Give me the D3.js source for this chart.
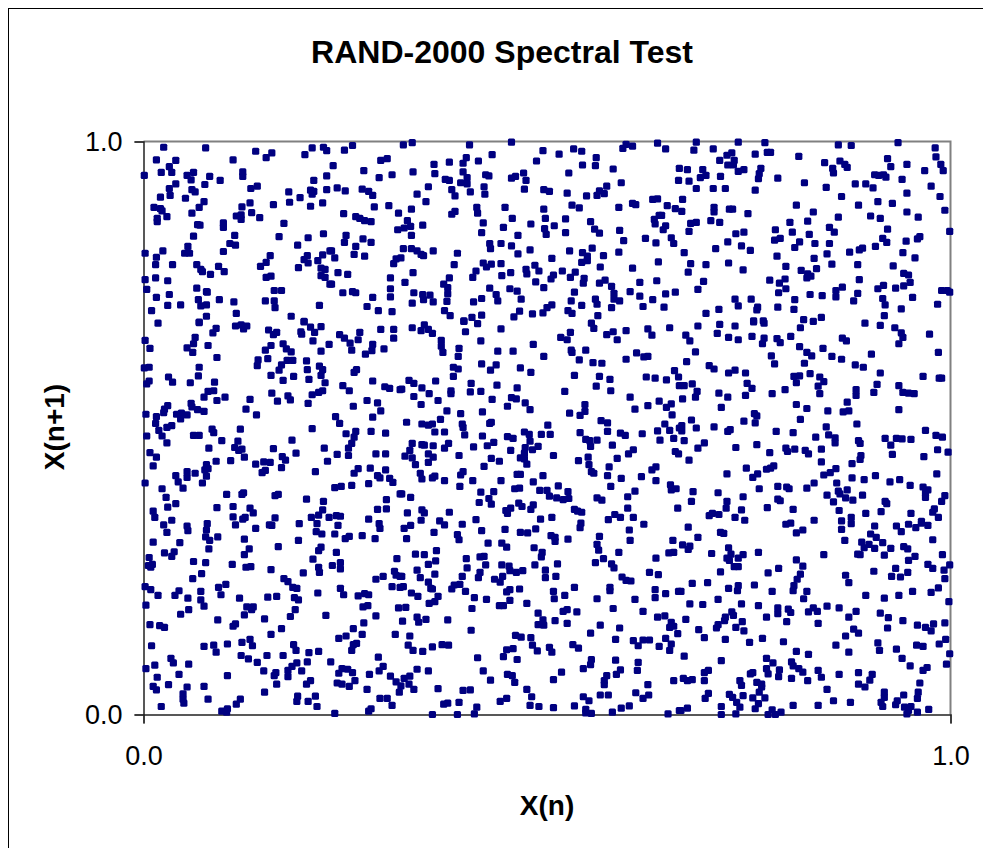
<!DOCTYPE html>
<html>
<head>
<meta charset="utf-8">
<script src="https://cdn.jsdelivr.net/npm/d3@7"></script>
<style>
  html, body { margin: 0; padding: 0; background: #fff; overflow: hidden; }
  text { font-family: "Liberation Sans", Arial, sans-serif; fill: #000; }
</style>
</head>
<body>
<div id="chart"></div>
<script>
const titleText = "RAND-2000 Spectral Test"
const xLabel = "X(n)"
const yLabel = "X(n+1)"
const tickValues = [0, 1]

// values, one list per part of the plot: [X(n), X(n+1)]
const upperLeft = [[.025,.990],[.077,.989],[.139,.983],[.159,.980],[.152,.972],[.111,.968],[.016,.968],[.040,.967],[.032,.956],[.022,.946],[.035,.946],[.001,.941],[.062,.946],[.054,.941],[.059,.933],[.082,.939],[.123,.947],[.123,.939],[.095,.932],[.040,.926],[.032,.918],[.076,.925],[.141,.922],[.133,.918],[.060,.916],[.064,.912],[.033,.906],[.021,.903],[.052,.901],[.075,.895],[.069,.885],[.013,.885],[.021,.883],[.023,.879],[.122,.886],[.132,.893],[.161,.890],[.134,.876],[.060,.875],[.115,.870],[.121,.872],[.121,.864],[.144,.867],[.029,.869],[.017,.866],[.017,.860],[.067,.855],[.070,.854],[.099,.858],[.099,.850],[.174,.857],[.062,.835],[.113,.836],[.168,.834],[.107,.822],[.114,.819],[.055,.817],[.099,.808],[.051,.805],[.057,.805],[.024,.809],[.002,.805],[.016,.798],[.157,.801],[.152,.789],[.145,.782],[.015,.785],[.036,.785],[.066,.785],[.071,.777],[.093,.782],[.100,.773],[.083,.768],[.073,.773],[.002,.759],[.015,.762],[.030,.757],[.152,.763],[.158,.765],[.078,.738],[.209,.989],[.223,.990],[.227,.984],[.200,.977],[.227,.940],[.211,.932],[.227,.916],[.180,.912],[.207,.915],[.211,.913],[.209,.908],[.194,.902],[.181,.894],[.222,.893],[.207,.887],[.223,.839],[.204,.832],[.191,.819],[.231,.809],[.222,.802],[.203,.801],[.199,.794],[.204,.788],[.216,.792],[.192,.780],[.220,.779],[.225,.777],[.220,.766],[.225,.763],[.231,.751],
  [.004,.742],[.016,.728],[.032,.733],[.030,.714],[.046,.715],[.010,.705],[.066,.744],[.079,.737],[.068,.724],[.071,.713],[.078,.715],[.094,.724],[.112,.720],[.078,.695],[.069,.685],[.115,.700],[.162,.740],[.171,.740],[.151,.722],[.162,.722],[.163,.710],[.218,.714],[.183,.695],[.199,.686]]

const upperMiddle = [[.249,.985],[.259,.993],[.322,.994],[.333,.998],[.404,.994],[.456,.999],[.495,.984],[.515,.978],[.533,.987],[.543,.983],[.594,.988],[.598,.995],[.606,.992],[.637,.997],[.432,.977],[.400,.972],[.561,.972],[.487,.966],[.415,.966],[.379,.964],[.396,.962],[.360,.960],[.302,.970],[.294,.967],[.235,.958],[.544,.959],[.560,.958],[.582,.952],[.273,.949],[.334,.947],[.396,.947],[.527,.945],[.308,.942],[.361,.944],[.424,.942],[.428,.940],[.471,.945],[.461,.939],[.456,.936],[.292,.937],[.374,.934],[.379,.932],[.401,.937],[.474,.932],[.393,.928],[.401,.926],[.353,.921],[.422,.921],[.592,.928],[.574,.922],[.240,.919],[.250,.914],[.271,.917],[.279,.913],[.284,.906],[.382,.916],[.405,.912],[.472,.917],[.496,.916],[.503,.913],[.525,.910],[.565,.914],[.571,.909],[.562,.906],[.549,.905],[.339,.908],[.386,.905],[.423,.908],[.350,.895],[.631,.899],[.637,.900],[.606,.892],[.610,.890],[.286,.886],[.304,.888],[.332,.882],[.413,.885],[.448,.885],[.496,.882],[.531,.889],[.540,.884],[.589,.885],[.248,.874],[.316,.875],[.386,.878],[.382,.873],[.414,.875],[.263,.869],[.268,.866],[.274,.862],[.282,.860],[.327,.862],[.457,.866],[.498,.866],[.523,.865],[.554,.860],[.639,.871],[.633,.864],[.634,.856],[.421,.858],[.480,.856],[.509,.853],[.346,.854],[.331,.852],[.323,.849],[.315,.846],[.446,.850],[.497,.848],[.559,.847],[.590,.845],[.419,.841],[.523,.841],[.499,.838],[.565,.840],[.332,.836],[.464,.836],[.251,.836],[.272,.830],[.622,.831],[.595,.827],[.635,.823],[.249,.824],[.282,.824],[.429,.822],[.443,.822],[.263,.817],[.456,.818],[.430,.813],[.322,.813],[.332,.813],[.339,.809],[.479,.811],[.528,.809],[.359,.809],[.556,.814],[.233,.809],[.544,.806],[.589,.807],[.344,.803],[.347,.801],[.389,.805],[.464,.804],[.261,.803],[.274,.800],[.237,.797],[.570,.801],[.506,.796],[.550,.800],[.319,.797],[.313,.795],[.310,.787],[.550,.792],[.543,.789],[.638,.790],[.421,.788],[.431,.786],[.443,.787],[.385,.785],[.425,.781],[.485,.784],[.566,.781],[.606,.779],[.474,.777],[.412,.774],[.490,.774],[.519,.774],[.535,.772],[.241,.771],[.253,.768],[.334,.771],[.455,.771],[.475,.769],[.444,.766],[.508,.767],[.306,.762],[.379,.762],[.408,.763],[.529,.763],[.505,.760],[.546,.761],[.572,.758],[.636,.757],[.486,.755],[.324,.754],[.545,.753],[.565,.753],[.615,.754],[.372,.751],[.233,.751],[.496,.745],[.377,.745],[.580,.747],[.306,.743],[.429,.744],[.454,.743],[.463,.739],[.247,.736],[.259,.738],[.263,.736],[.335,.736],[.534,.737],[.603,.738],[.583,.735],[.346,.733],[.355,.732],[.377,.734],[.306,.729],[.284,.728],[.437,.733],[.615,.730],[.347,.724],[.419,.726],[.468,.725],[.560,.725],[.631,.724],[.583,.725],[.439,.722],[.530,.722],[.590,.722],[.359,.720],[.376,.721],[.333,.718],[.409,.720],[.562,.716],[.277,.712],[.543,.714],[.506,.715],[.500,.710],[.619,.712],[.580,.710],[.291,.705],[.308,.703],[.373,.705],[.466,.704],[.482,.699],[.495,.701],[.526,.705],[.531,.700],[.380,.696],[.419,.697],[.407,.693],[.459,.694],[.563,.696],[.397,.687]]

const upperRight = [[.685,.999],[.682,.985],[.647,.987],[.706,.987],[.737,.999],[.770,.998],[.861,.994],[.877,.993],[.935,.998],[.981,.989],[.982,.973],[.773,.981],[.777,.981],[.758,.978],[.729,.980],[.723,.976],[.714,.967],[.732,.967],[.812,.974],[.922,.970],[.724,.959],[.731,.959],[.844,.963],[.863,.966],[.869,.960],[.872,.955],[.926,.956],[.946,.960],[.988,.960],[.664,.953],[.674,.951],[.693,.951],[.737,.948],[.744,.951],[.765,.953],[.854,.953],[.991,.949],[.968,.949],[.697,.941],[.690,.937],[.715,.939],[.763,.944],[.855,.945],[.906,.942],[.917,.942],[.911,.941],[.920,.938],[.663,.932],[.676,.931],[.762,.935],[.786,.936],[.940,.934],[.819,.928],[.882,.926],[.895,.926],[.846,.920],[.904,.919],[.976,.922],[.685,.918],[.706,.918],[.721,.918],[.758,.915],[.946,.910],[.987,.904],[.865,.904],[.668,.899],[.649,.888],[.809,.889],[.886,.889],[.910,.895],[.928,.892],[.707,.885],[.659,.883],[.726,.882],[.730,.882],[.993,.880],[.667,.878],[.707,.877],[.830,.877],[.946,.877],[.642,.871],[.749,.874],[.861,.868],[.901,.870],[.960,.868],[.913,.866],[.703,.862],[.714,.859],[.823,.861],[.801,.859],[.685,.859],[.678,.857],[.647,.853],[.850,.850],[.783,.846],[.644,.846],[.922,.847],[.676,.843],[.856,.842],[.804,.842],[.744,.842],[.734,.839],[.825,.838],[.999,.843],[.654,.832],[.789,.831],[.782,.828],[.962,.834],[.959,.830],[.916,.831],[.813,.825],[.724,.825],[.921,.824],[.945,.826],[.657,.822],[.832,.822],[.850,.822],[.741,.818],[.807,.815],[.907,.817],[.709,.813],[.891,.814],[.887,.811],[.752,.810],[.875,.807],[.670,.806],[.847,.804],[.941,.806],[.785,.800],[.831,.796],[.956,.797],[.678,.787],[.725,.788],[.697,.785],[.853,.786],[.885,.785],[.929,.783],[.796,.782],[.743,.776],[.815,.775],[.834,.778],[.675,.772],[.942,.770],[.948,.767],[.823,.769],[.827,.765],[.822,.762],[.887,.759],[.795,.760],[.776,.758],[.694,.756],[.788,.753],[.950,.754],[.942,.748],[.917,.749],[.910,.743],[.932,.744],[.866,.746],[.687,.742],[.796,.743],[.858,.740],[.989,.740],[.996,.740],[.999,.737],[.659,.737],[.787,.736],[.647,.734],[.885,.735],[.826,.733],[.841,.731],[.858,.729],[.953,.728],[.733,.725],[.753,.725],[.807,.724],[.880,.722],[.916,.726],[.919,.715],[.737,.713],[.761,.711],[.786,.711],[.645,.711],[.984,.716],[.713,.707],[.760,.706],[.806,.707],[.939,.708],[.697,.700],[.918,.696],[.818,.689],[.840,.693],[.756,.687],[.768,.687]]

const centerLeft = [[.018,.683],[.069,.684],[.090,.674],[.086,.666],[.114,.678],[.121,.680],[.124,.673],[.128,.678],[.155,.671],[.161,.663],[.165,.667],[.195,.668],[.196,.664],[.199,.685],[.207,.676],[.220,.677],[.212,.667],[.243,.663],[.249,.657],[.268,.667],[.294,.672],[.310,.672],[.310,.657],[.064,.658],[.002,.653],[.210,.652],[.266,.654],[.256,.648],[.062,.647],[.080,.644],[.158,.644],[.173,.647],[.230,.646],[.284,.646],[.008,.639],[.054,.640],[.061,.632],[.151,.636],[.177,.638],[.183,.633],[.220,.634],[.258,.636],[.283,.635],[.298,.638],[.275,.629],[.091,.623],[.154,.621],[.142,.619],[.178,.618],[.185,.618],[.202,.617],[.141,.609],[.171,.610],[.001,.605],[.007,.606],[.069,.606],[.218,.608],[.203,.602],[.222,.602],[.168,.601],[.264,.602],[.261,.597],[.158,.592],[.068,.591],[.186,.590],[.220,.592],[.031,.589],[.173,.583],[.205,.585],[.036,.580],[.007,.582],[.004,.577],[.058,.579],[.088,.580],[.225,.579],[.284,.582],[.247,.574],[.299,.572],[.305,.569],[.318,.567],[.255,.565],[.087,.565],[.080,.564],[.159,.561],[.222,.565],[.217,.562],[.209,.558],[.101,.554],[.075,.554],[.179,.556],[.132,.550],[.091,.548],[.166,.547],[.182,.549],[.277,.548],[.290,.544],[.204,.543],[.059,.543],[.030,.539],[.260,.538],[.060,.537],[.026,.533],[.067,.532],[.075,.529],[.127,.533],[.294,.530],[.003,.524],[.025,.527],[.041,.524],[.047,.526],[.054,.523],[.140,.523],[.016,.520],[.046,.516],[.238,.520],[.284,.519],[.015,.508],[.243,.508],[.035,.504],[.029,.501],[.019,.496],[.120,.498],[.085,.498],[.209,.499],[.087,.492],[.263,.494],[.282,.494],[.251,.490],[.300,.491],[.023,.486],[.004,.486],[.062,.487],[.069,.487],[.261,.484],[.097,.478],[.117,.477],[.184,.479],[.258,.473],[.029,.474],[.081,.465],[.113,.466],[.122,.463],[.161,.464],[.224,.465],[.254,.465],[.118,.461],[.008,.457],[.189,.456],[.016,.449],[.125,.449],[.240,.454],[.254,.452],[.288,.455],[.300,.455],[.172,.450],[.176,.444],[.090,.442],[.108,.443],[.228,.442],[.149,.441],[.157,.440],[.139,.437],[.012,.434],[.078,.436],[.171,.431],[.281,.430],[.080,.429],[.076,.427],[.266,.429],[.300,.427],[.054,.424],[.213,.424],[.151,.426],[.147,.422],[.064,.421],[.261,.421],[.040,.417],[.078,.416],[.290,.417],[.054,.414],[.293,.413],[.305,.412],[.043,.406],[.309,.405],[.002,.404],[.073,.404],[.279,.403],[.258,.400],[.245,.398],[.237,.396],[.023,.394],[.049,.395],[.318,.385],[.028,.379],[.103,.384],[.124,.387],[.122,.384],[.167,.384],[.163,.382],[.202,.376],[.223,.372],[.301,.375],[.040,.368],[.030,.362],[.091,.361],[.111,.363],[.132,.360],[.012,.355],[.222,.357],[.290,.358],[.301,.359],[.136,.352],[.014,.344],[.111,.345],[.126,.344],[.163,.343],[.208,.344],[.217,.348],[.230,.344],[.239,.347],[.244,.346],[.279,.341],[.035,.339],[.123,.341]]

const centerMiddle = [[.333,.675],[.348,.680],[.344,.670],[.353,.672],[.358,.665],[.397,.686],[.414,.682],[.399,.668],[.443,.673],[.369,.653],[.418,.652],[.369,.643],[.391,.639],[.371,.632],[.439,.634],[.458,.634],[.483,.646],[.390,.625],[.496,.625],[.419,.612],[.437,.610],[.467,.605],[.384,.606],[.390,.603],[.430,.601],[.480,.597],[.384,.590],[.362,.582],[.329,.583],[.335,.578],[.406,.578],[.438,.575],[.345,.570],[.320,.568],[.463,.570],[.381,.565],[.381,.560],[.405,.563],[.418,.564],[.354,.560],[.335,.555],[.365,.548],[.432,.550],[.456,.553],[.462,.551],[.344,.541],[.473,.544],[.451,.538],[.376,.530],[.393,.525],[.420,.528],[.479,.532],[.368,.515],[.326,.510],[.345,.507],[.353,.505],[.358,.507],[.395,.507],[.396,.501],[.431,.510],[.429,.508],[.501,.505],[.361,.493],[.373,.493],[.472,.493],[.478,.489],[.493,.489],[.504,.489],[.398,.488],[.420,.486],[.451,.485],[.458,.482],[.479,.477],[.434,.475],[.333,.473],[.345,.471],[.348,.470],[.359,.469],[.378,.473],[.373,.465],[.409,.467],[.426,.469],[.489,.468],[.473,.466],[.455,.461],[.482,.462],[.330,.461],[.353,.455],[.359,.449],[.324,.451],[.333,.448],[.391,.452],[.472,.456],[.508,.452],[.431,.447],[.467,.448],[.472,.446],[.353,.440],[.441,.442],[.337,.436],[.475,.437],[.422,.433],[.396,.424],[.343,.421],[.393,.418],[.463,.419],[.467,.419],[.495,.417],[.358,.413],[.361,.416],[.345,.411],[.373,.408],[.408,.408],[.443,.408],[.483,.406],[.392,.398],[.514,.399],[.460,.394],[.466,.395],[.491,.391],[.500,.391],[.418,.388],[.434,.389],[.526,.389],[.320,.385],[.331,.379],[.503,.381],[.512,.378],[.428,.377],[.520,.375],[.527,.377],[.416,.370],[.431,.367],[.465,.369],[.469,.363],[.483,.366],[.480,.358],[.455,.360],[.449,.356],[.451,.351],[.345,.357],[.348,.352],[.327,.352],[.379,.353],[.534,.358],[.538,.355],[.543,.353],[.506,.344],[.492,.341],[.344,.339],[.367,.338],[.412,.340],
  [.555,.683],[.558,.674],[.529,.667],[.517,.658],[.525,.654],[.574,.663],[.582,.668],[.587,.654],[.598,.670],[.625,.673],[.630,.662],[.652,.675],[.530,.636],[.531,.632],[.548,.636],[.611,.631],[.620,.624],[.625,.625],[.598,.620],[.540,.619],[.557,.614],[.568,.613],[.658,.600],[.663,.589],[.534,.592],[.565,.590],[.578,.585],[.623,.589],[.634,.587],[.648,.584],[.664,.574],[.561,.573],[.522,.564],[.579,.565],[.603,.554],[.639,.547],[.547,.541],[.654,.542],[.625,.539],[.648,.536],[.609,.533],[.547,.529],[.528,.526],[.541,.522],[.655,.523],[.567,.513],[.575,.509],[.646,.507],[.652,.496],[.637,.495],[.575,.494],[.664,.500],[.541,.492],[.591,.491],[.597,.487],[.618,.490],[.657,.482],[.640,.479],[.548,.480],[.553,.478],[.562,.479],[.554,.468],[.581,.470],[.607,.462],[.659,.459],[.663,.455],[.601,.455],[.551,.449],[.587,.447],[.539,.443],[.552,.436],[.577,.432],[.635,.432],[.630,.427],[.555,.424],[.558,.421],[.575,.417],[.617,.415],[.592,.412],[.635,.408],[.579,.398],[.653,.401],[.654,.392],[.660,.394],[.609,.390],[.600,.380],[.562,.378],[.568,.374],[.600,.360],[.662,.360],[.584,.349],[.591,.344],[.576,.340],[.607,.344]]

const centerRight = [[.687,.678],[.714,.681],[.733,.678],[.756,.685],[.769,.683],[.814,.675],[.830,.686],[.894,.683],[.913,.679],[.931,.675],[.939,.666],[.941,.658],[.974,.664],[.672,.662],[.711,.665],[.725,.658],[.737,.654],[.754,.660],[.769,.657],[.767,.647],[.785,.656],[.789,.649],[.802,.660],[.866,.657],[.871,.652],[.936,.647],[.677,.652],[.813,.642],[.842,.639],[.684,.633],[.822,.632],[.828,.626],[.902,.629],[.985,.632],[.778,.626],[.853,.625],[.865,.620],[.673,.616],[.782,.612],[.819,.613],[.882,.610],[.892,.606],[.701,.609],[.707,.603],[.733,.601],[.725,.596],[.746,.596],[.913,.596],[.826,.595],[.806,.590],[.813,.591],[.838,.589],[.966,.590],[.986,.587],[.989,.587],[.809,.579],[.843,.581],[.680,.577],[.670,.574],[.748,.578],[.909,.576],[.936,.574],[.754,.569],[.836,.573],[.795,.567],[.883,.567],[.686,.564],[.713,.561],[.779,.560],[.746,.557],[.838,.560],[.905,.562],[.883,.557],[.941,.562],[.948,.561],[.955,.560],[.724,.554],[.684,.554],[.668,.551],[.872,.545],[.809,.541],[.822,.534],[.716,.536],[.848,.530],[.874,.530],[.867,.528],[.936,.532],[.757,.525],[.760,.521],[.814,.515],[.744,.512],[.758,.509],[.679,.514],[.884,.507],[.667,.504],[.685,.500],[.707,.502],[.846,.502],[.727,.497],[.724,.494],[.784,.494],[.805,.492],[.969,.496],[.667,.495],[.849,.488],[.833,.484],[.857,.483],[.982,.487],[.990,.484],[.919,.482],[.933,.482],[.940,.481],[.951,.480],[.886,.478],[.670,.478],[.857,.474],[.888,.473],[.695,.474],[.760,.471],[.926,.470],[.687,.465],[.734,.466],[.796,.465],[.807,.463],[.798,.459],[.820,.461],[.840,.463],[.984,.462],[.824,.455],[.776,.457],[.997,.458],[.928,.454],[.889,.452],[.967,.450],[.676,.444],[.888,.445],[.840,.441],[.878,.438],[.781,.434],[.747,.430],[.772,.428],[.777,.430],[.858,.429],[.761,.420],[.851,.422],[.723,.420],[.843,.418],[.755,.414],[.907,.417],[.878,.413],[.983,.420],[.893,.410],[.937,.410],[.925,.406],[.859,.404],[.831,.404],[.950,.400],[.786,.398],[.797,.397],[.800,.394],[.822,.395],[.763,.394],[.872,.392],[.966,.397],[.972,.392],[.861,.390],[.681,.389],[.712,.387],[.969,.387],[.863,.385],[.847,.383],[.891,.383],[.993,.382],[.969,.379],[.743,.380],[.870,.378],[.879,.374],[.786,.376],[.789,.373],[.679,.372],[.723,.372],[.989,.372],[.855,.371],[.919,.372],[.921,.368],[.722,.360],[.741,.357],[.773,.361],[.805,.358],[.980,.359],[.862,.356],[.705,.351],[.713,.349],[.701,.347],[.733,.344],[.978,.353],[.895,.351],[.914,.354],[.951,.351],[.985,.344],[.877,.344],[.831,.339],[.745,.339],[.865,.338],[.964,.337]]

const lowerLeft = [[.025,.331],[.054,.329],[.055,.321],[.079,.333],[.114,.331],[.139,.325],[.156,.331],[.159,.330],[.193,.333],[.215,.333],[.241,.330],[.292,.333],[.293,.325],[.029,.318],[.078,.322],[.214,.319],[.221,.315],[.237,.315],[.255,.311],[.271,.312],[.250,.307],[.287,.307],[.077,.310],[.092,.310],[.125,.306],[.192,.304],[.082,.304],[.012,.301],[.045,.300],[.167,.293],[.081,.289],[.131,.289],[.220,.292],[.217,.286],[.038,.284],[.026,.282],[.239,.283],[.125,.279],[.035,.276],[.007,.274],[.210,.271],[.314,.272],[.062,.267],[.077,.265],[.110,.262],[.244,.265],[.234,.260],[.006,.260],[.011,.262],[.009,.257],[.217,.257],[.244,.254],[.127,.257],[.133,.258],[.158,.253],[.218,.248],[.311,.250],[.072,.246],[.198,.247],[.313,.243],[.318,.241],[.297,.241],[.288,.236],[.061,.237],[.174,.237],[.179,.232],[.102,.227],[.093,.222],[.002,.223],[.185,.222],[.190,.220],[.308,.223],[.009,.218],[.044,.216],[.071,.215],[.244,.220],[.318,.222],[.039,.208],[.018,.208],[.096,.209],[.216,.212],[.248,.209],[.266,.207],[.274,.211],[.279,.209],[.055,.203],[.119,.203],[.154,.205],[.165,.206],[.187,.204],[.192,.200],[.071,.200],[.003,.191],[.075,.189],[.128,.188],[.136,.188],[.134,.183],[.272,.188],[.278,.190],[.316,.186],[.188,.183],[.056,.183],[.046,.175],[.125,.174],[.182,.171],[.226,.173],[.288,.172],[.150,.167],[.092,.165],[.273,.160],[.114,.158],[.111,.154],[.008,.157],[.020,.155],[.026,.152],[.171,.150],[.260,.150],[.158,.140],[.271,.140],[.312,.140],[.251,.137],[.242,.133],[.132,.131],[.122,.126],[.186,.122],[.264,.124],[.260,.122],[.010,.120],[.075,.119],[.087,.121],[.104,.123],[.135,.120],[.189,.112],[.258,.112],[.090,.109],[.205,.108],[.217,.110],[.121,.103],[.153,.103],[.173,.103],[.291,.100],[.034,.098],[.130,.097],[.037,.090],[.056,.088],[.014,.086],[.141,.091],[.190,.090],[.203,.092],[.232,.092],[.184,.084],[.297,.084],[.003,.080],[.149,.076],[.179,.077],[.196,.076],[.246,.080],[.253,.079],[.292,.076],[.164,.073],[.259,.073],[.044,.070],[.104,.068],[.162,.068],[.179,.066],[.242,.072],[.280,.070],[.306,.067],[.017,.065],[.262,.059],[.313,.057],[.207,.059],[.202,.053],[.165,.053],[.240,.055],[.246,.053],[.031,.052],[.255,.049],[.012,.049],[.075,.049],[.054,.048],[.016,.043],[.277,.044],[.317,.039],[.049,.036],[.150,.039],[.191,.032],[.213,.032],[.080,.027],[.120,.027],[.049,.027],[.190,.023],[.204,.023],[.293,.028],[.302,.028],[.050,.020],[.115,.018],[.308,.016],[.022,.014],[.215,.014],[.282,.010],[.279,.006],[.097,.006],[.104,.010],[.103,.004],[.237,.002]]

const lowerMiddle = [[.323,.325],[.331,.330],[.373,.331],[.395,.332],[.326,.307],[.360,.318],[.419,.321],[.448,.323],[.467,.318],[.476,.317],[.486,.324],[.389,.314],[.391,.305],[.505,.312],[.510,.309],[.510,.302],[.526,.306],[.565,.311],[.541,.326],[.542,.334],[.620,.332],[.602,.322],[.603,.304],[.656,.304],[.427,.299],[.444,.299],[.450,.292],[.484,.291],[.562,.297],[.564,.287],[.589,.283],[.657,.283],[.651,.282],[.337,.280],[.348,.279],[.363,.286],[.494,.283],[.493,.275],[.417,.275],[.422,.276],[.635,.273],[.570,.272],[.400,.272],[.362,.268],[.353,.262],[.424,.261],[.485,.261],[.513,.263],[.560,.265],[.580,.263],[.444,.261],[.453,.259],[.401,.256],[.583,.256],[.339,.252],[.454,.251],[.462,.248],[.470,.251],[.498,.252],[.627,.248],[.361,.245],[.417,.248],[.638,.244],[.395,.241],[.445,.241],[.511,.241],[.498,.239],[.343,.239],[.415,.239],[.593,.240],[.320,.241],[.435,.236],[.442,.231],[.598,.234],[.604,.233],[.353,.231],[.392,.227],[.385,.226],[.322,.223],[.534,.222],[.578,.222],[.356,.220],[.358,.219],[.382,.219],[.578,.216],[.466,.219],[.454,.218],[.399,.215],[.450,.214],[.508,.215],[.634,.218],[.663,.215],[.332,.212],[.647,.211],[.340,.206],[.365,.206],[.522,.208],[.410,.204],[.509,.202],[.562,.202],[.634,.204],[.609,.201],[.425,.201],[.361,.197],[.354,.194],[.454,.199],[.475,.194],[.441,.190],[.446,.190],[.325,.187],[.407,.185],[.582,.185],[.489,.177],[.520,.180],[.525,.183],[.537,.179],[.619,.180],[.637,.170],[.646,.172],[.339,.170],[.341,.161],[.350,.166],[.321,.163],[.377,.165],[.510,.164],[.495,.165],[.654,.161],[.489,.157],[.496,.156],[.525,.159],[.566,.156],[.657,.154],[.652,.152],[.590,.151],[.406,.147],[.662,.141],[.554,.142],[.461,.138],[.468,.135],[.480,.134],[.330,.137],[.647,.133],[.585,.131],[.607,.129],[.619,.130],[.627,.130],[.328,.121],[.370,.122],[.378,.121],[.358,.118],[.482,.121],[.532,.122],[.654,.123],[.613,.120],[.539,.116],[.503,.117],[.639,.119],[.334,.112],[.346,.110],[.458,.115],[.450,.113],[.488,.111],[.506,.109],[.652,.112],[.446,.101],[.414,.099],[.463,.096],[.585,.095],[.555,.096],[.613,.091],[.554,.087],[.339,.079],[.353,.076],[.421,.076],[.545,.080],[.612,.077],[.518,.074],[.591,.078],[.586,.070],[.451,.070],[.457,.068],[.330,.067],[.323,.063],[.574,.068],[.430,.060],[.508,.061],[.460,.056],[.571,.059],[.571,.052],[.329,.053],[.657,.059],[.319,.050],[.625,.052],[.335,.044],[.365,.045],[.396,.042],[.405,.043],[.475,.044],[.610,.038],[.545,.031],[.566,.034],[.576,.034],[.626,.034],[.481,.031],[.619,.028],[.552,.024],[.450,.028],[.442,.023],[.372,.018],[.377,.020],[.391,.021],[.479,.016],[.490,.014],[.508,.012],[.534,.015],[.602,.015],[.592,.011],[.413,.013],[.548,.009],[.664,.007],[.410,.001],[.389,.000],[.358,.000],[.548,.003],[.555,.002],[.581,.004],[.650,.001]]

const lowerRight = [[.675,.327],[.687,.309],[.715,.318],[.719,.316],[.796,.332],[.802,.334],[.809,.317],[.817,.322],[.865,.323],[.877,.333],[.906,.329],[.933,.329],[.939,.319],[.948,.332],[.957,.326],[.964,.334],[.972,.330],[.901,.315],[.908,.309],[.869,.304],[.890,.301],[.899,.297],[.893,.291],[.916,.300],[.978,.305],[.668,.296],[.677,.294],[.675,.288],[.725,.291],[.906,.290],[.926,.290],[.942,.293],[.947,.289],[.704,.281],[.728,.280],[.743,.279],[.762,.283],[.843,.279],[.885,.280],[.888,.279],[.918,.278],[.990,.279],[.723,.273],[.726,.269],[.737,.273],[.809,.270],[.956,.276],[.948,.269],[.972,.262],[.999,.261],[.817,.259],[.732,.258],[.737,.258],[.932,.255],[.978,.255],[.992,.252],[.787,.255],[.774,.247],[.715,.249],[.905,.250],[.947,.248],[.814,.245],[.870,.243],[.927,.241],[.938,.240],[.810,.236],[.993,.237],[.680,.229],[.699,.230],[.874,.230],[.806,.225],[.757,.226],[.737,.225],[.725,.220],[.736,.216],[.666,.215],[.985,.221],[.779,.215],[.805,.216],[.822,.215],[.953,.215],[.976,.213],[.895,.208],[.936,.208],[.918,.203],[.712,.201],[.818,.202],[.677,.193],[.693,.192],[.741,.193],[.762,.190],[.998,.197],[.786,.186],[.847,.189],[.862,.186],[.799,.184],[.830,.186],[.802,.178],[.786,.176],[.824,.179],[.835,.180],[.883,.180],[.729,.179],[.913,.177],[.772,.170],[.721,.170],[.731,.173],[.874,.170],[.923,.169],[.672,.166],[.742,.162],[.797,.162],[.720,.164],[.941,.164],[.836,.159],[.993,.160],[.979,.158],[.959,.156],[.712,.157],[.710,.151],[.734,.152],[.969,.152],[.922,.151],[.688,.148],[.744,.146],[.976,.146],[.880,.149],[.886,.142],[.870,.137],[.695,.134],[.721,.131],[.767,.133],[.994,.131],[.751,.126],[.793,.127],[.910,.125],[.986,.123],[.858,.121],[.958,.121],[.966,.119],[.809,.110],[.874,.109],[.912,.112],[.933,.114],[.824,.105],[.999,.106],[.670,.102],[.940,.098],[.716,.094],[.772,.098],[.780,.090],[.803,.092],[.805,.085],[.995,.088],[.950,.085],[.812,.080],[.772,.080],[.788,.078],[.836,.077],[.971,.082],[.966,.077],[.700,.077],[.695,.073],[.755,.073],[.752,.071],[.817,.074],[.774,.071],[.886,.073],[.862,.070],[.903,.070],[.787,.066],[.840,.065],[.803,.063],[.669,.063],[.680,.061],[.674,.059],[.695,.059],[.739,.059],[.823,.059],[.900,.060],[.760,.056],[.741,.051],[.766,.053],[.886,.053],[.894,.048],[.962,.055],[.766,.048],[.847,.044],[.763,.039],[.918,.039],[.700,.037],[.726,.035],[.960,.039],[.942,.034],[.730,.030],[.743,.033],[.696,.028],[.755,.029],[.770,.029],[.918,.030],[.959,.028],[.735,.021],[.934,.024],[.914,.021],[.855,.024],[.876,.021],[.762,.019],[.805,.016],[.836,.016],[.716,.014],[.932,.017],[.739,.013],[.758,.010],[.674,.011],[.666,.007],[.916,.014],[.943,.013],[.951,.014],[.973,.009],[.790,.004],[.779,.008],[.948,.007],[.959,.004],[.774,.000],[.783,.000],[.716,.000],[.734,.001],[.946,.001]]

const points = [upperLeft, upperMiddle, upperRight, centerLeft, centerMiddle, centerRight, lowerLeft, lowerMiddle, lowerRight].flat()

const width = 983
const height = 848
const plot = { left: 143.5, right: 950.5, top: 141.5, bottom: 714.5 }
const markerSize = 7.2

let svg = d3.select("#chart").append("svg")
  .attr("width", width)
  .attr("height", height)

// outer chart frame, runs off the right and bottom of the window
svg.append("rect")
  .attr("x", 8.5).attr("y", 8.5)
  .attr("width", width + 20).attr("height", height + 20)
  .attr("fill", "#fff").attr("stroke", "#000")

let xScale = d3.scaleLinear().domain([0, 1]).range([plot.left, plot.right])
let yScale = d3.scaleLinear().domain([0, 1]).range([plot.bottom, plot.top])

// gray plot border (top and right), the axes draw over it
svg.append("path")
  .attr("d", `M${plot.left},${plot.top}H${plot.right}V${plot.bottom}`)
  .attr("fill", "none")
  .attr("stroke", "#808080")
  .attr("stroke-width", 2)

let xAxis = d3.axisBottom(xScale).tickValues(tickValues).tickFormat(d3.format(".1f")).tickSize(9).tickPadding(22)
let yAxis = d3.axisLeft(yScale).tickValues(tickValues).tickFormat(d3.format(".1f")).tickSize(9).tickPadding(12)

svg.append("g").attr("transform", `translate(0,${plot.bottom})`).call(xAxis)
svg.append("g").attr("transform", `translate(${plot.left},0)`).call(yAxis)

svg.selectAll(".domain").attr("stroke", "#222").attr("stroke-width", 1.5)
svg.selectAll(".tick line").attr("stroke", "#222")
svg.selectAll(".tick text").attr("font-size", 27).attr("font-family", '"Liberation Sans", Arial, sans-serif').attr("fill", "#000")

svg.append("g")
  .selectAll("rect")
  .data(points)
  .join("rect")
  .attr("x", d => xScale(d[0]) - markerSize / 2)
  .attr("y", d => yScale(d[1]) - markerSize / 2)
  .attr("width", markerSize)
  .attr("height", markerSize)
  .attr("rx", 1.5)
  .attr("fill", "#000080")

svg.append("text")
  .attr("x", 502).attr("y", 63)
  .attr("text-anchor", "middle")
  .attr("font-size", 32)
  .attr("font-weight", "bold")
  .text(titleText)

svg.append("text")
  .attr("x", 547).attr("y", 815)
  .attr("text-anchor", "middle")
  .attr("font-size", 28)
  .attr("font-weight", "bold")
  .text(xLabel)

svg.append("text")
  .attr("transform", "translate(64,427) rotate(-90)")
  .attr("text-anchor", "middle")
  .attr("font-size", 28)
  .attr("font-weight", "bold")
  .text(yLabel)
</script>
</body>
</html>
